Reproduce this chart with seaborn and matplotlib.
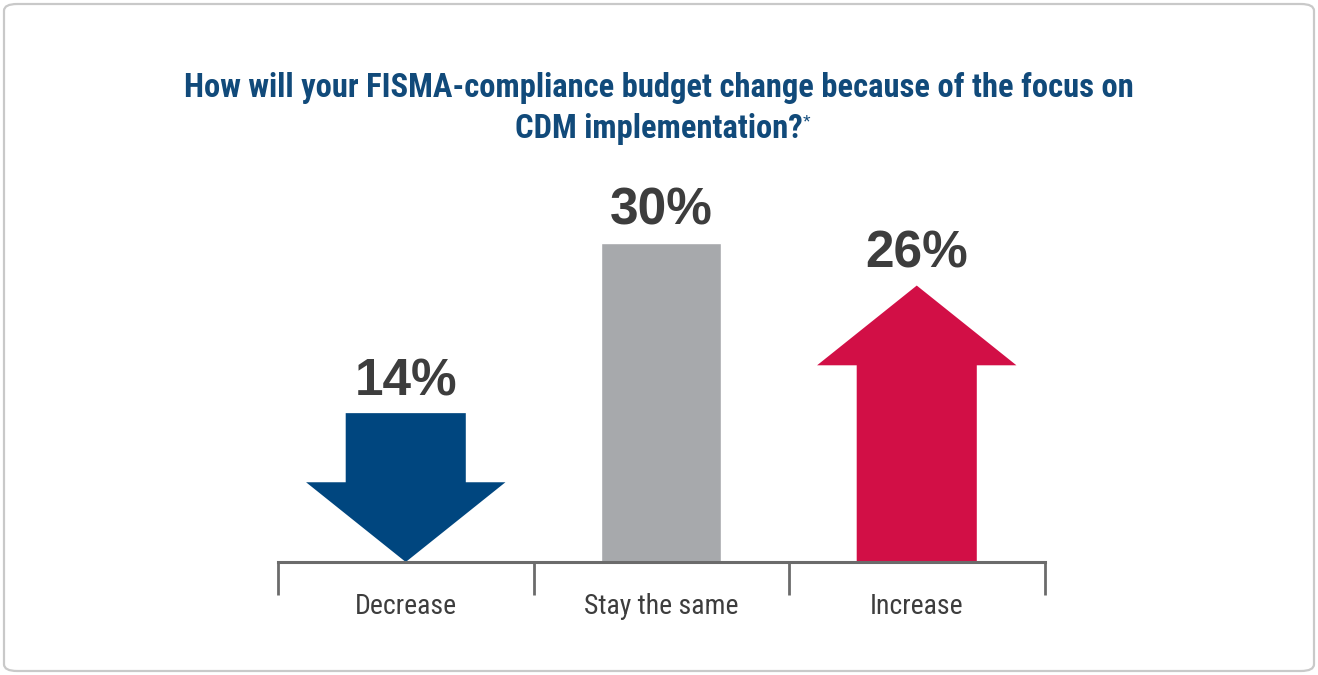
import numpy as np
import pandas as pd
import matplotlib.pyplot as plt
import seaborn as sns
from matplotlib.patches import Polygon, FancyBboxPatch

categories = ['Decrease', 'Stay the same', 'Increase']
values = [14, 30, 26]
shapes = ['down', 'bar', 'up']
colors = ['#00467f', '#a7a9ac', '#d20f46']

title_1 = 'How will your FISMA-compliance budget change because of the focus on'
title_2 = 'CDM implementation?'

df = pd.DataFrame({'answer': categories, 'pct': values})

sns.set_style('white')
plt.rcParams['font.family'] = ['Liberation Sans', 'DejaVu Sans']
cond = ['Roboto Condensed', 'DejaVu Sans']

fig = plt.figure(figsize=(13.18, 6.75), dpi=100)
ax = fig.add_axes([278 / 1318, 113 / 675, 766.5 / 1318, 425.3 / 675])

sns.barplot(data=df, x='answer', y='pct', hue='answer', palette=colors,
            width=0.47, legend=False, ax=ax, saturation=1)

ax.set_xlim(-0.5, 2.5)
ax.set_ylim(0, 40)

head_len = 7.5      # in data units
head_ratio = 1.66   # head width / shaft width

for cont, shape, val, col in zip(ax.containers, shapes, values, colors):
    bar = cont.patches[0]
    x0 = bar.get_x()
    w = bar.get_width()
    x1 = x0 + w
    cx = x0 + w / 2
    hw = w * head_ratio / 2
    if shape == 'down':
        bar.set_visible(False)
        pts = [(x0, val), (x1, val), (x1, head_len), (cx + hw, head_len),
               (cx, 0), (cx - hw, head_len), (x0, head_len)]
        ax.add_patch(Polygon(pts, closed=True, facecolor=col, edgecolor='none'))
    elif shape == 'up':
        bar.set_visible(False)
        pts = [(x0, 0), (x1, 0), (x1, val - head_len), (cx + hw, val - head_len),
               (cx, val), (cx - hw, val - head_len), (x0, val - head_len)]
        ax.add_patch(Polygon(pts, closed=True, facecolor=col, edgecolor='none'))
    ax.annotate(f'{val}%', xy=(cx, val), xytext=(0, 13), textcoords='offset points',
                ha='center', va='baseline', fontsize=37, fontweight='bold',
                color='#3d3d3d')

# axis styling
for s in ['left', 'right', 'top']:
    ax.spines[s].set_visible(False)
ax.spines['bottom'].set_color('#6b6b6b')
ax.spines['bottom'].set_linewidth(2.2)
ax.set_yticks([])
ax.set_xlabel('')
ax.set_ylabel('')
ax.set_xticks([-0.5, 0.5, 1.5, 2.5], minor=True)
ax.tick_params(axis='x', which='minor', bottom=True, length=24, width=2,
               color='#6b6b6b', direction='out')
ax.tick_params(axis='x', which='major', length=0, pad=22)
for lab in ax.get_xticklabels():
    lab.set_fontfamily(cond)
    lab.set_fontsize(20)
    lab.set_color('#3d3d3d')

# title
tcol = '#114a7a'
fig.text(0.5, 1 - 88 / 675, title_1, ha='center', va='center', fontsize=23.5,
         fontweight='bold', color=tcol, family=cond)
t2 = fig.text(0.5, 1 - 129 / 675, title_2, ha='center', va='center', fontsize=23.5,
              fontweight='bold', color=tcol, family=cond)
ax.annotate('*', xy=(1, 0.95), xycoords=t2, ha='left', va='top', fontsize=14,
            color=tcol, annotation_clip=False)

# rounded frame
frame = FancyBboxPatch((4 / 1318, 4 / 675), 1310 / 1318, 667 / 675,
                       boxstyle='round,pad=0,rounding_size=0.01',
                       transform=fig.transFigure, facecolor='none',
                       edgecolor='#c9c9c9', linewidth=1.6)
fig.patches.append(frame)

fig.savefig('out.png', dpi=100, facecolor='white')
